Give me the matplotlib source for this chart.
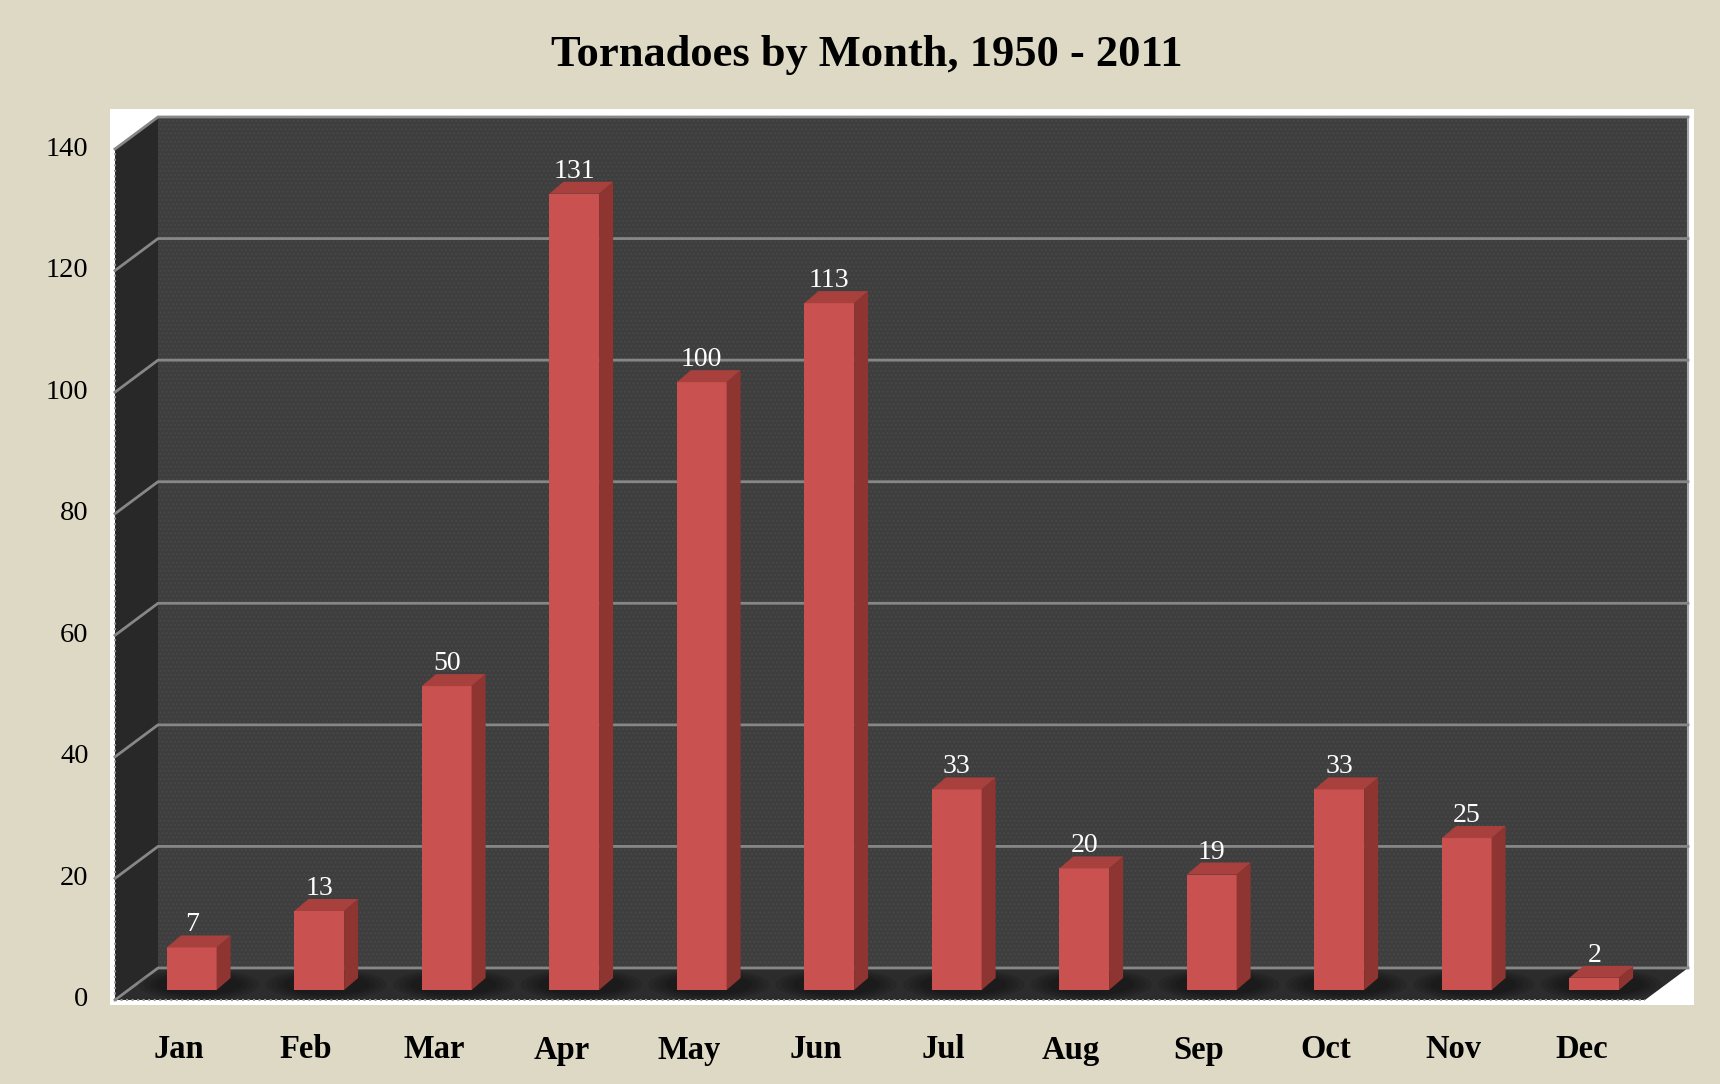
import matplotlib

matplotlib.use("Agg")
import matplotlib.pyplot as plt  # noqa: E402
from matplotlib.patches import Ellipse, Polygon, Rectangle  # noqa: E402

months = ["Jan", "Feb", "Mar", "Apr", "May", "Jun",
          "Jul", "Aug", "Sep", "Oct", "Nov", "Dec"]
counts = [7, 13, 50, 131, 100, 113, 33, 20, 19, 33, 25, 2]
y_ticks = [0, 20, 40, 60, 80, 100, 120, 140]

W, H, DPI = 1720, 1084, 100
SERIF = ["Liberation Serif", "DejaVu Serif"]

fig = plt.figure(figsize=(W / DPI, H / DPI), dpi=DPI, facecolor="#DDD9C4")

# white chart area behind the 3D box (must sit under the axes)
fig.patches.append(Rectangle((110 / W, 1 - 1005 / H), 1584 / W, 896 / H,
                             transform=fig.transFigure, facecolor="white",
                             edgecolor="none", zorder=-1))

# axes = plane of the bar fronts (pixel box of that plane)
ax_l, ax_r, ax_t, ax_b = 128, 1658, 139, 990
ax = fig.add_axes([ax_l / W, 1 - ax_b / H, (ax_r - ax_l) / W, (ax_b - ax_t) / H])
ymax = y_ticks[-1]
x0, x1 = -0.5, len(months) - 0.5
ax.set_xlim(x0, x1)
ax.set_ylim(0, ymax)
ax.axis("off")

ux = (ax_r - ax_l) / len(months)   # pixels per category
uy = (ax_b - ax_t) / ymax          # pixels per unit


def px(dx, dy):
    return dx / ux, dy / uy


bx, by = px(30, 22)     # back wall offset
fx, fy = px(-13, -10)   # front edge offset
dx, dy = px(14, 12)     # bar depth

# walls
back = Rectangle((x0 + bx, by), x1 - x0, ymax, facecolor="#3e3e3e",
                 edgecolor="#474747", hatch="....", linewidth=0,
                 clip_on=False, zorder=1)
ax.add_patch(back)
left = Polygon([(x0 + fx, fy), (x0 + bx, by), (x0 + bx, ymax + by), (x0 + fx, ymax + fy)],
               closed=True, facecolor="#282828", edgecolor="none", clip_on=False, zorder=1)
ax.add_patch(left)
floor = Polygon([(x0 + fx, fy), (x1 + fx, fy), (x1 + bx, by), (x0 + bx, by)],
                closed=True, facecolor="#2c2c2c", edgecolor="none", clip_on=False, zorder=1)
ax.add_patch(floor)

# edges of the box
ax.plot([x0 + bx, x1 + bx], [ymax + by, ymax + by], color="#9a9a9a", lw=1.5,
        ls=":", clip_on=False, zorder=2)
ax.plot([x1 + bx, x1 + bx], [by, ymax + by], color="#a8a8a8", lw=1.5,
        clip_on=False, zorder=2)
ax.plot([x0 + fx, x0 + fx], [fy, ymax + fy], color="#9a9a9a", lw=1.5,
        ls=":", clip_on=False, zorder=2)
ax.plot([x0 + fx, x1 + fx], [fy, fy], color="#9a9a9a", lw=1.5,
        ls=":", clip_on=False, zorder=2)

# gridlines on left and back walls
for v in y_ticks:
    ax.plot([x0 + fx, x0 + bx, x1 + bx], [v + fy, v + by, v + by],
            color="#878787", lw=2, clip_on=False, zorder=2)

# bars
w = 0.39
for i, v in enumerate(counts):
    # soft shadow on the floor: stacked translucent ellipses
    cx, cy = i + dx / 2, dy * 0.45
    for k, s in enumerate([1.0, 0.8, 0.6, 0.4]):
        ax.add_patch(Ellipse((cx, cy), (w + dx) * (1 + 0.9 * s), dy * (1.2 + 1.4 * s),
                             facecolor="black", alpha=0.1, edgecolor="none",
                             clip_on=False, zorder=3))
    ax.add_patch(Rectangle((i - w / 2, 0), w, v, facecolor="#C9514F",
                           edgecolor="none", clip_on=False, zorder=4))
    ax.add_patch(Polygon([(i + w / 2, 0), (i + w / 2 + dx, dy),
                          (i + w / 2 + dx, v + dy), (i + w / 2, v)],
                         closed=True, facecolor="#8E3431", edgecolor="none",
                         clip_on=False, zorder=4))
    ax.add_patch(Polygon([(i - w / 2, v), (i + w / 2, v),
                          (i + w / 2 + dx, v + dy), (i - w / 2 + dx, v + dy)],
                         closed=True, facecolor="#A8403D", edgecolor="none",
                         clip_on=False, zorder=4))
    ax.annotate(str(v), (i, v), xytext=(0, 11.5), textcoords="offset points",
                ha="center", va="baseline", color="white", fontsize=20,
                family=SERIF, zorder=5)
    ax.annotate(months[i], (i + fx, fy), xytext=(0, -36), textcoords="offset points",
                ha="center", va="center", color="black", fontsize=23.5,
                fontweight="bold", family=SERIF, annotation_clip=False)

# y tick labels at the front edge
for v in y_ticks:
    ax.annotate(str(v), (x0 + fx, v + fy), xytext=(-19, 0), textcoords="offset points",
                ha="right", va="center", color="black", fontsize=20.5,
                family=SERIF, annotation_clip=False)

fig.text(867 / W, 1 - 55 / H, "Tornadoes by Month, 1950 - 2011", ha="center",
         va="center", fontsize=32, fontweight="bold", family=SERIF)

fig.savefig("out.png", dpi=DPI, facecolor=fig.get_facecolor())
